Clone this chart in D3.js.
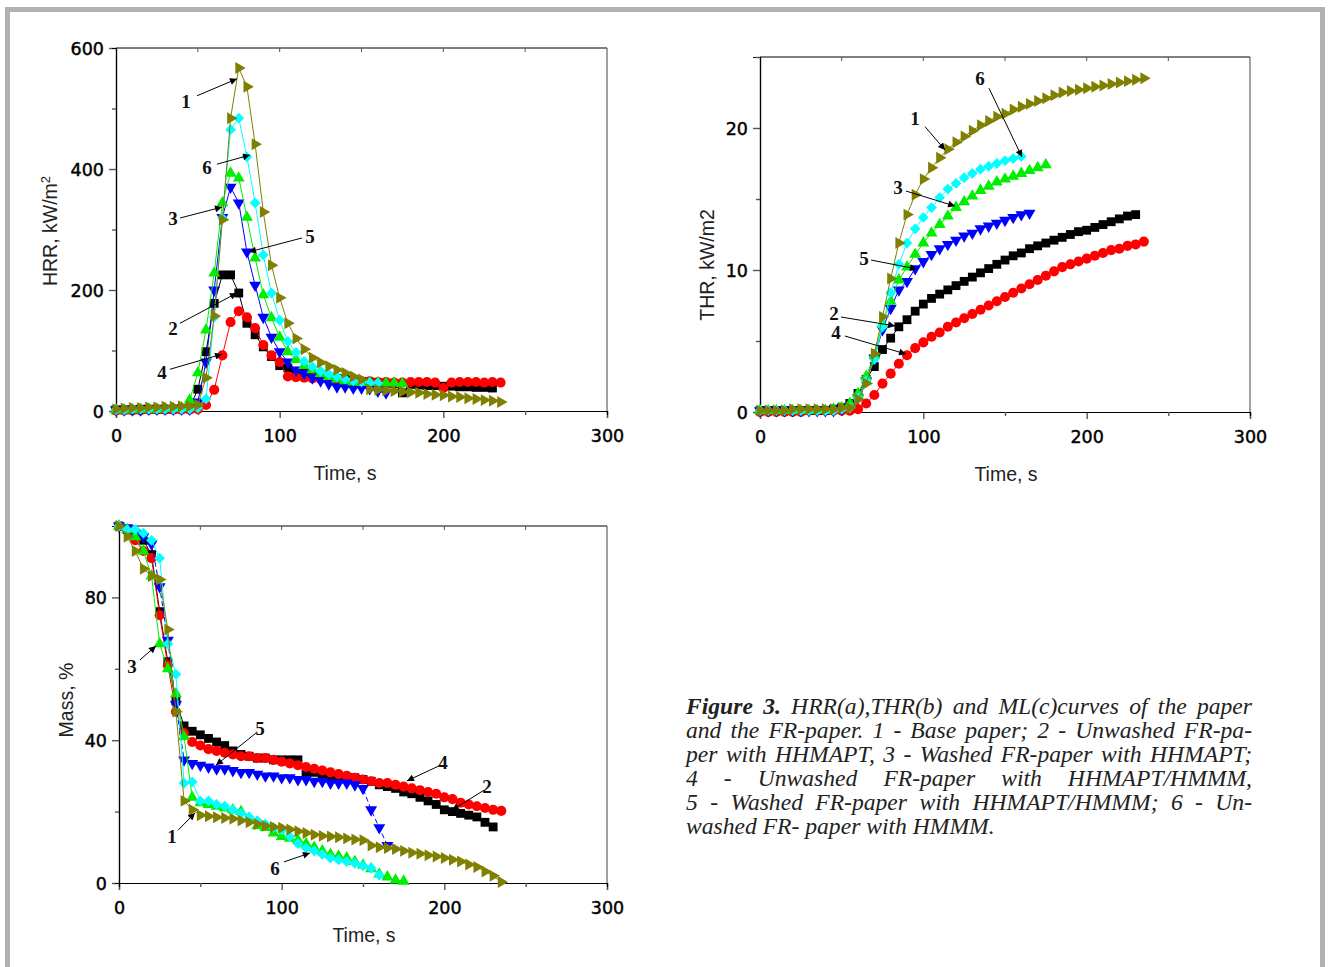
<!DOCTYPE html>
<html><head><meta charset="utf-8">
<script src="https://cdn.jsdelivr.net/npm/d3@7"></script>
<style>body{margin:0;background:#fff}svg{display:block}</style>
</head><body><svg id="c" width="1328" height="967"></svg>
<script>
// ---------- DATA ----------
const times = [0,5,10,15,20,25,30,35,40,45,50,55,60,65,70,75,80,85,90,95,100,105,110,115,120,125,130,135,140,145,150,155,160,165,170,175,180,185,190,195,200,205,210,215,220,225,230,235];
const xTicks = [0,100,200,300];
const hrrTicks = [0,200,400,600];
const thrTicks = [0,10,20];
const massTicks = [0,40,80];

// HRR (kW/m2)
const hrr1 = [3,4,5,5,6,6,7,7,8,8,10, 55,157,316,484,567,536,441,329,241,187, 145,120,102,88,80,74,68,63,57,52, 36,35,34,33,32,31,30,28,27,26, 24,23,21,20,18,17,15];
const hrr2 = [2,2,2,3,3,3,3,3,4,5, 36,98,178,225,225,195,145,126,106,90, 75,71,65,62,60,58,56,54,52,50, 49,48,47,46,45,30,44,43,42,42, 41,41,40,40,39,39,38];
const hrr3 = [2,2,2,3,3,3,4,4,5, 18,63,134,228,344,393,385,320,253,192, 154,122,98,85,75,68,62,57,53,50, 48,47,47,47,46,46,45];
const hrr4 = [1,1,1,1,2,2,2,2,2,2,3, 10,35,92,147,165,155,137,109,92,81, 57,56,55,54,53,52,51,50,50,49, 49,48,48,47,47,48,48,48,47,38, 47,48,48,48,47,48,47];
const hrr5 = [2,2,2,2,3,3,3,3,3,3, 15,81,200,320,370,344,263,208,155,122, 98,81,68,62,55,50,45,40,40,38, 38,37,33,30];
const hrr6 = [2,2,3,3,3,3,3,3,3,3,5, 20,155,319,465,484,420,344,258,195,150, 115,97,82,73,66,61,57,53,50,48, 47,46];

// THR (kW/m2)
const thr1 = [0.1,0.1,0.1,0.1,0.2,0.2,0.2,0.2,0.2,0.2,0.3,0.3, 0.9,2.0,4.1,6.7,9.4,11.9,13.9,15.3,16.4,17.2, 17.9,18.5,19.0,19.4,19.8,20.2,20.5,20.8,21.0,21.3, 21.5,21.7,21.9,22.1,22.3,22.5,22.6,22.7,22.8,22.9, 23.0,23.1,23.2,23.3,23.4,23.5];
const thr2 = [0.1,0.1,0.1,0.1,0.1,0.1,0.1,0.1,0.1,0.2,0.3, 0.6,1.3,2.3,3.2,4.4,5.2,6.0,6.5,7.1,7.6, 8.0,8.3,8.6,8.9,9.2,9.5,9.8,10.1,10.4,10.7, 11.0,11.2,11.5,11.7,11.9,12.1,12.3,12.5,12.7,12.8, 13.0,13.2,13.4,13.6,13.8,13.9];
const thr3 = [0.1,0.1,0.1,0.1,0.1,0.1,0.1,0.1,0.1,0.2,0.3, 0.6,1.3,2.5,4.0,6.2,7.8,9.3,10.2,11.1,11.9, 12.6,13.2,13.8,14.4,14.8,15.2,15.6,15.9,16.2,16.4, 16.6,16.8,17.0,17.2,17.4];
const thr4 = [0,0,0,0,0,0,0.1,0.1,0.1,0.1,0.1,0.1, 0.2,0.6,1.2,2.0,2.7,3.4,4.0,4.5,4.9,5.3, 5.6,6.0,6.3,6.6,6.9,7.2,7.5,7.8,8.1,8.4, 8.7,9.0,9.3,9.6,9.9,10.2,10.4,10.6,10.8,11.0, 11.2,11.4,11.5,11.7,11.8,12.0];
const thr5 = [0.1,0.1,0.1,0.1,0.1,0.1,0.1,0.1,0.1,0.1,0.2, 0.4,1.0,2.2,3.8,5.8,7.3,8.6,9.2,10.1,10.6, 11.1,11.5,11.8,12.1,12.4,12.6,12.9,13.1,13.3,13.5, 13.7,13.9,14.0];
const thr6 = [0.1,0.1,0.1,0.1,0.1,0.1,0.1,0.1,0.1,0.1,0.2, 0.3,1.0,2.2,3.7,6.0,8.4,10.4,11.9,12.9,13.7, 14.4,15.1,15.7,16.1,16.5,16.8,17.1,17.3,17.5,17.7, 17.85,18.0];

// Mass (%)
const mass1 = [100,97,93,88,86,85,71,48,23,20.5, 19,18.7,18.4,18.2,18,17.5,17,16.5,16,15.7, 15.5,15,14.5,14,13.5,13.2,13,12.8,12.5,12.2, 12,10.5,10,9.8,9.5,9,8.5,8.2,7.8,7.4, 7,6.5,6,5.2,4.5,3.2,2,0.3];
const mass2 = [100,99,97,96,92,76,62,51, 44,42.5,41.5,40.5,39.5,38.5,37,36,35.5,35, 35,34.5,34.5,34.5,34.5,31,31,30.5,30,30, 29.5,29.5,29,28.5,27.5,27,26.5,25.5,25,24, 23,22,20.5,20,19.5,19,18.5,17,15.7];
const mass3 = [100,99,97,93,86,67,60,53,41,24, 22.5,22,21.5,21,20.5,20,18,16,15.5,14, 13,12.5,12,11,10,9,8,7.5,7,6, 5,4,2.5,1.7,0.8,0.5];
const mass4 = [100,99,96,93,91,75,61,48,42,39.5, 38.5,37.5,37,36.5,36,35.5,35.5,35,35,34.5, 34,33.5,33,32.5,32,31.5,31,30.5,30,29.5, 29,28.5,28,28,27.5,27,26.5,26,25.5,25, 24,23.5,22.5,22,21.5,21,20.5,20.2];
const mass5 = [100,99.5,98,97,95,83,68,50,34.5,33.5, 33,32.5,32,32,31.5,31,31,30.5,30,30, 29.5,29.5,29,29,28.5,28.5,28,28,28,27.5, 26.5,20.5,15.5,10.5];
const mass6 = [100,99,99,98,96,91,67,58.5,28,28.3, 23,23,22,21.5,20.5,19.5,18.5,17.5,16.5,15.5, 14.8,13,11,9.8,9,8,7,6.5,6,5.5, 4.8,4.2,2.2];

// Annotations: [label, labelT, labelV, fromT, fromV, toT, toV]
const annA = [["1",42.8,512,49.5,521,73.9,549],["6",55.6,403,61.7,408,81.9,423],["3",34.8,319,39.1,319,64.8,337],["5",118.5,289,113.6,286,81.3,263],["2",34.8,136,39.1,145,73.9,195],["4",28.1,64,33,69,64.8,94]];
const annB = [["6",134.7,23.5,140.2,22.8,160.4,17.96],["1",94.9,20.7,101,20.1,113.3,18.45],["3",84.5,15.85,89.4,15.56,119.4,14.5],["5",63.7,10.85,68,10.7,96.1,10.07],["2",45.3,6.97,49.6,6.69,82.7,6.06],["4",46.5,5.63,52,5.35,89.4,4.08]];
const annC = [["3",8,60.8,12.9,62.5,22.7,66.4],["5",86.7,43.4,84.2,42,59.6,33],["1",32.6,13.2,36.3,14.8,46.7,19.6],["6",95.9,4.2,101.4,5.9,117.4,8.4],["4",199.2,33.9,196.7,32.8,177,28.6],["2",226.2,27.2,224.4,26,204.7,20.4]];

const captionLines = [
  "Figure 3. HRR(a),THR(b) and ML(c)curves of the paper",
  "and the FR-paper. 1 - Base paper; 2 - Unwashed FR-pa-",
  "per with HHMAPT, 3 - Washed FR-paper with HHMAPT;",
  "4 - Unwashed FR-paper with HHMAPT/HMMM,",
  "5 - Washed FR-paper with HHMAPT/HMMM; 6 - Un-",
  "washed FR- paper with HMMM."
];

// ---------- STYLES ----------
const styles = {
  s1:{color:"#808000", sym:"tri", rot:90, size:62},
  s2:{color:"#000000", sym:"sq", rot:0, size:78},
  s3:{color:"#00ee00", sym:"tri", rot:0, size:62},
  s4:{color:"#ff0000", sym:"circ", rot:0, size:80},
  s5:{color:"#0000ff", sym:"tri", rot:180, size:62},
  s6:{color:"#00ffff", sym:"sq", rot:45, size:58}
};
const drawOrder = ["s2","s4","s5","s3","s6","s1"];

const svg = d3.select("#c");
svg.append("rect").attr("width",1328).attr("height",967).attr("fill","#fff");
// frame
const frameC = "#b2b2b6";
svg.append("rect").attr("x",5).attr("y",7).attr("width",1320).attr("height",5).attr("fill",frameC);
svg.append("rect").attr("x",5).attr("y",7).attr("width",5).attr("height",960).attr("fill",frameC);
svg.append("rect").attr("x",1320).attr("y",7).attr("width",5).attr("height",960).attr("fill",frameC);

const defs = svg.append("defs");
defs.append("marker").attr("id","arr").attr("viewBox","0 0 10 10").attr("refX",10).attr("refY",5)
  .attr("markerWidth",9).attr("markerHeight",7).attr("markerUnits","userSpaceOnUse").attr("orient","auto")
  .append("path").attr("d","M0,0 L10,5 L0,10 Z").attr("fill","#000");

function symPath(st){
  const t = st.sym==="tri"? d3.symbolTriangle : st.sym==="sq"? d3.symbolSquare : d3.symbolCircle;
  return d3.symbol().type(t).size(st.size)();
}

function panel(cfg){
  const x = d3.scaleLinear().domain([0,300]).range([cfg.x0,cfg.x1]);
  const y = d3.scaleLinear().domain([0,cfg.ymax]).range([cfg.y0,cfg.y1]);
  const g = svg.append("g");
  g.append("line").attr("x1",cfg.x0).attr("x2",cfg.x1).attr("y1",cfg.y1).attr("y2",cfg.y1).attr("stroke","#000");
  g.append("line").attr("x1",cfg.x1).attr("x2",cfg.x1).attr("y1",cfg.y1).attr("y2",cfg.y0).attr("stroke","#444");
  [50,100,150,200,250].forEach(v=>{
    g.append("line").attr("x1",x(v)).attr("x2",x(v)).attr("y1",cfg.y1).attr("y2",cfg.y1+4).attr("stroke","#555");
  });
  const xa = g.append("g").attr("transform",`translate(0,${cfg.y0})`)
    .call(d3.axisBottom(x).tickValues(xTicks).tickSize(7).tickFormat(d3.format("d")));
  const xm = g.append("g").attr("transform",`translate(0,${cfg.y0})`)
    .call(d3.axisBottom(x).tickValues([50,150,250]).tickSize(4).tickFormat(""));
  const ya = g.append("g").attr("transform",`translate(${cfg.x0},0)`)
    .call(d3.axisLeft(y).tickValues(cfg.ticks).tickSize(7).tickFormat(d3.format("d")));
  const ym = g.append("g").attr("transform",`translate(${cfg.x0},0)`)
    .call(d3.axisLeft(y).tickValues(cfg.minor).tickSize(4).tickFormat(""));
  [xa,xm,ya,ym].forEach(a=>{
    a.select(".domain").attr("stroke","#000").attr("stroke-width",1.2);
    a.selectAll(".tick line").attr("stroke","#555").attr("stroke-width",1.4);
    a.selectAll(".tick text").attr("font-family","DejaVu Sans").attr("font-size",17.5).attr("fill","#000")
      .attr("stroke","#000").attr("stroke-width",0.45);
  });
  xa.selectAll(".tick text").attr("dy","1.2em");
  ya.selectAll(".tick text").attr("x",-12).attr("dy","0.36em");
  g.append("text").attr("x",cfg.xtX).attr("y",cfg.xtY).attr("text-anchor","middle")
    .attr("font-family","Liberation Sans").attr("font-size",19.5).attr("fill","#222").text("Time, s");
  const yt = g.append("text").attr("transform",`translate(${cfg.ytX},${cfg.ytY}) rotate(-90)`).attr("text-anchor","middle")
    .attr("font-family","Liberation Sans").attr("font-size",19.5).attr("fill","#222");
  if(cfg.ySup){
    yt.append("tspan").text(cfg.ylabel);
    yt.append("tspan").attr("font-size",13).attr("dy",-7).text("2");
  } else yt.text(cfg.ylabel);

  drawOrder.forEach(k=>{
    const vals = cfg.data[k];
    const st = styles[k];
    const pts = vals.map((v,i)=>[times[i],v]);
    const line = d3.line().x(d=>x(d[0])).y(d=>y(d[1]));
    g.append("path").datum(pts).attr("d",line).attr("fill","none").attr("stroke",st.color).attr("stroke-width",1)
      .attr("stroke-dasharray", (k==="s5" && cfg.dashBlue)? "5,3" : null);
    const p = symPath(st);
    g.append("g").selectAll("path").data(pts).join("path")
      .attr("d",p).attr("fill",st.color)
      .attr("transform",d=>`translate(${x(d[0])},${y(d[1])}) rotate(${st.rot})`);
  });
  cfg.ann.forEach(a=>{
    g.append("line").attr("x1",x(a[3])).attr("y1",y(a[4])).attr("x2",x(a[5])).attr("y2",y(a[6]))
      .attr("stroke","#000").attr("stroke-width",1).attr("marker-end","url(#arr)");
    g.append("text").attr("x",x(a[1])).attr("y",y(a[2])).attr("dy","0.35em").attr("text-anchor","middle")
      .attr("font-family","Liberation Serif").attr("font-size",19).attr("font-weight","bold").attr("fill","#111").text(a[0]);
  });
}

panel({x0:116,x1:607,y0:411,y1:48,ymax:600,ticks:hrrTicks,minor:[100,300,500],
  xtX:345,xtY:480,ytX:57,ytY:231,ylabel:"HRR, kW/m",ySup:true,
  data:{s1:hrr1,s2:hrr2,s3:hrr3,s4:hrr4,s5:hrr5,s6:hrr6},ann:annA});
panel({x0:760,x1:1250,y0:412,y1:57,ymax:25,ticks:thrTicks,minor:[5,15,25],
  xtX:1006,xtY:481,ytX:714,ytY:265,ylabel:"THR, kW/m2",ySup:false,
  data:{s1:thr1,s2:thr2,s3:thr3,s4:thr4,s5:thr5,s6:thr6},ann:annB});
panel({x0:119,x1:607,y0:883,y1:526,ymax:100,ticks:massTicks,minor:[20,60,100],
  xtX:364,xtY:942,ytX:73,ytY:700,ylabel:"Mass, %",ySup:false,dashBlue:true,
  data:{s1:mass1,s2:mass2,s3:mass3,s4:mass4,s5:mass5,s6:mass6},ann:annC});

// caption (justified)
const capX0 = 686, capX1 = 1252, capY0 = 714, capLH = 24;
let capFS = 23.6;
function layCaption(fs){
  svg.selectAll("text.cap").remove();
  let minGap = 1e9;
  captionLines.forEach((ln,li)=>{
    const words = ln.split(" ");
    const items = words.map((w,wi)=>{
      const bold = li===0 && wi<2;
      const t = svg.append("text").attr("class","cap").attr("y",capY0+li*capLH)
        .attr("font-family","Liberation Serif").attr("font-size",fs).attr("font-style","italic")
        .attr("font-weight",bold?"bold":"normal").attr("fill","#222").text(w);
      return {t, w:t.node().getComputedTextLength()};
    });
    const total = d3.sum(items,d=>d.w);
    const last = li===captionLines.length-1;
    const gap = last? fs*0.25 : (capX1-capX0-total)/(items.length-1);
    if(!last) minGap = Math.min(minGap,gap);
    let cx = capX0;
    items.forEach(it=>{ it.t.attr("x",cx); cx += it.w+gap; });
  });
  return minGap;
}
while(layCaption(capFS) < capFS*0.2 && capFS>18) capFS -= 0.3;
</script>
</body></html>
